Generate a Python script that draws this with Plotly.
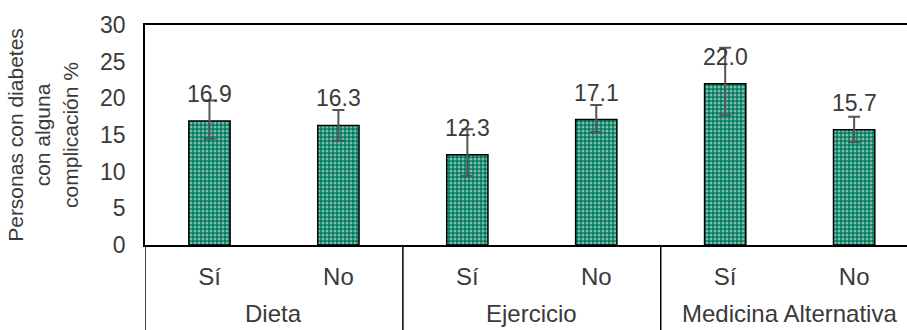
import plotly.graph_objects as go

# Survey groups and answers
groups = ["Dieta", "Ejercicio", "Medicina Alternativa"]
answers = ["Sí", "No", "Sí", "No", "Sí", "No"]
answer_group = ["Dieta", "Dieta", "Ejercicio", "Ejercicio",
                "Medicina Alternativa", "Medicina Alternativa"]

# Percentage of people with diabetes with some complication, and 95% CI
pct = [16.9, 16.3, 12.3, 17.1, 22.0, 15.7]
ci_low = [14.5, 14.2, 9.4, 15.4, 17.7, 14.0]
ci_high = [19.7, 18.4, 15.8, 19.1, 26.9, 17.5]

y_ticks = [0, 5, 10, 15, 20, 25, 30]

FONT = "Liberation Sans, Arial, sans-serif"
TXT = "#3a3a3a"
BAR = "#007A5E"

xpos = list(range(len(answers)))
err_plus = [h - v for h, v in zip(ci_high, pct)]
err_minus = [v - l for v, l in zip(pct, ci_low)]

fig = go.Figure()
fig.add_trace(go.Bar(
    x=xpos, y=pct, width=0.32,
    marker=dict(color=BAR, line=dict(color="black", width=1.5),
                pattern=dict(shape=".", fgcolor="white", bgcolor=BAR,
                             size=4, solidity=0.45, fillmode="overlay")),
    error_y=dict(type="data", symmetric=False, array=err_plus,
                 arrayminus=err_minus, color="#555555", thickness=2, width=6),
    showlegend=False,
))

# value labels above each bar
for i, v in enumerate(pct):
    fig.add_annotation(x=i, y=v, xref="x", yref="y", text=f"{v:.1f}",
                       showarrow=False, yanchor="bottom", yshift=12,
                       font=dict(family=FONT, size=23, color=TXT))

# group labels and separators of the two-level category axis
bounds = []
start = 0
for g in groups:
    n = answer_group.count(g)
    center = start + (n - 1) / 2
    fig.add_annotation(x=center, y=-0.31, xref="x", yref="paper", text=g,
                       showarrow=False, yanchor="middle",
                       font=dict(family=FONT, size=24, color=TXT))
    bounds.append(start - 0.5)
    start += n
for b in bounds:
    fig.add_shape(type="line", xref="x", yref="paper", x0=b, x1=b,
                  y0=0, y1=-0.4, line=dict(color="black", width=1.5))

fig.update_layout(
    width=907, height=330,
    margin=dict(l=145, r=0, t=25, b=85),
    paper_bgcolor="white", plot_bgcolor="white",
    font=dict(family=FONT, size=23, color=TXT),
    xaxis=dict(range=[-0.5, 5.41], tickmode="array", tickvals=xpos,
               ticktext=answers, showgrid=False, zeroline=False,
               showline=True, mirror=True, linecolor="black", linewidth=1.5,
               ticks="", ticklabelstandoff=9,
               tickfont=dict(family=FONT, size=24, color=TXT)),
    yaxis=dict(range=[0, 30], tickvals=y_ticks, showgrid=False,
               zeroline=False, showline=True, linecolor="black",
               linewidth=1.5, ticks="", ticklabelstandoff=13,
               tickfont=dict(family=FONT, size=23, color=TXT),
               title=dict(text="Personas con diabetes<br>con alguna<br>complicación %",
                          standoff=16,
                          font=dict(family=FONT, size=21, color=TXT))),
)

fig.write_html("out.html")
